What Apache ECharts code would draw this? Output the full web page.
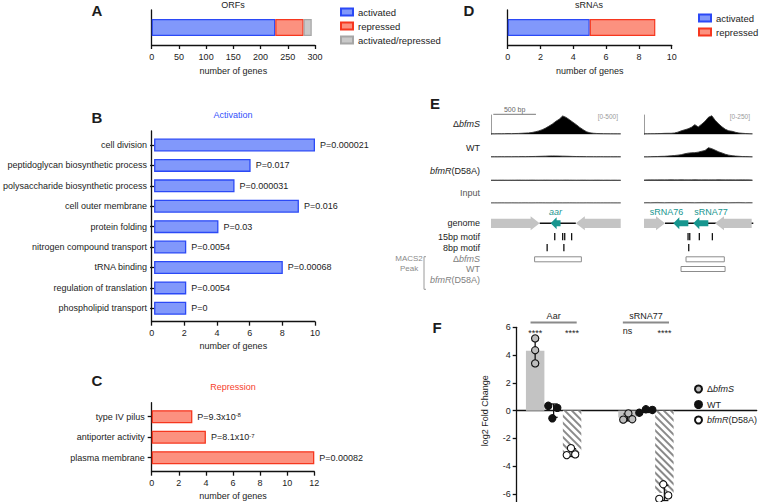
<!DOCTYPE html>
<html>
<head>
<meta charset="utf-8">
<script src="https://cdn.jsdelivr.net/npm/echarts@6/dist/echarts.min.js"></script>
<style>
html,body{margin:0;padding:0;background:#ffffff;}
#chart{width:763px;height:502px;}
</style>
</head>
<body>
<div id="chart"></div>
<script>
// ================= DATA =================
// Panel A – ORFs
const orfLabel = ['ORFs'];
const orfActivated = [227];
const orfRepressed = [52];
const orfBoth = [15];
// Panel D – sRNAs
const srnaLabel = ['sRNAs'];
const srnaActivated = [5];
const srnaRepressed = [4];
// Panel B – Activation GO terms
const activationTerms = ['cell division', 'peptidoglycan biosynthetic process', 'polysaccharide biosynthetic process',
  'cell outer membrane', 'protein folding', 'nitrogen compound transport', 'tRNA binding',
  'regulation of translation', 'phospholipid transport'];
const activationGenes = [10, 6, 5, 9, 4, 2, 8, 2, 2];
const activationP = ['P=0.000021', 'P=0.017', 'P=0.000031', 'P=0.016', 'P=0.03', 'P=0.0054', 'P=0.00068', 'P=0.0054', 'P=0'];
// Panel C – Repression GO terms
const repressionTerms = ['type IV pilus', 'antiporter activity', 'plasma membrane'];
const repressionGenes = [3, 4, 12];
const repressionP = ['P=9.3x10{sup|-8}', 'P=8.1x10{sup|-7}', 'P=0.00082'];

// Panel E – ChIP-seq coverage, 40-bp bins
const binSize = 40;
const aarDbfmS = [13,12,15,14,16,18,17,20,22,26,31,36,47,65,88,119,160,212,268,335,392,475,438,378,312,250,178,120,66,38,27,21,18,16,15,14,13,13,12];
const aarWT    = [14,15,14,16,15,16,15,17,16,18,17,19,20,22,24,27,30,33,35,34,32,30,28,25,22,20,19,18,17,16,16,15,16,15,14,15,14,15,14];
const aarD58A  = [16,17,16,18,17,16,18,17,19,18,17,18,19,18,17,18,19,18,17,18,17,18,19,18,17,16,17,18,17,16,17,18,17,16,17,16,17,16,16];
const aarInput = [12,13,12,14,13,12,14,13,12,13,14,13,12,14,15,14,13,12,13,14,13,12,13,14,13,12,13,12,14,13,12,13,12,13,12,13,12,12,12];
const srnaDbfmS = [6,7,8,8,9,10,12,13,13,17,28,45,58,71,91,125,95,130,168,220,240,181,136,97,65,45,39,26,17,13,10,8,6];
const srnaWT    = [6,6,8,9,10,12,13,16,19,23,28,34,45,54,58,60,67,78,88,124,112,92,71,56,39,28,21,16,13,10,9,8,6];
const srnaD58A  = [10,11,12,11,12,13,12,13,14,13,12,14,13,12,13,14,13,12,13,12,13,12,14,13,12,13,12,11,12,13,12,11,10];
const srnaInput = [8,9,8,10,11,9,8,9,10,9,8,10,11,10,9,8,9,10,11,10,9,8,9,10,9,8,9,10,11,9,8,9,8];
const aarScaleMax = 500;
const srnaScaleMax = 250;
const trackNames = ['ΔbfmS', 'WT', 'bfmR(D58A)', 'Input'];
const scaleBarBp = [[27, 527]];
// loci: [start bp, end bp, strand, kind (0 backbone, 1 gene, 2 sRNA)]
const aarLocus = [[570, 994, 0, 0], [0, 570, 1, 1], [994, 1520, -1, 1], [699, 815, -1, 2]];
const aarLocusNames = ['', '', '', 'aar'];
const srnaLocus = [[248, 1290, 0, 0], [0, 248, 1, 1], [838, 1271, -1, 1], [346, 523, -1, 2], [582, 759, -1, 2]];
const srnaLocusNames = ['', '', '', 'sRNA76', 'sRNA77'];
const aarMotif15 = [747, 840, 864, 945];
const aarMotif8 = [658, 854];
const srnaMotif15 = [520, 540, 653, 807];
const srnaMotif8 = [528];
// MACS2 peaks: [start, end, sample (0 ΔbfmS, 1 WT)]
const aarPeaks = [[511, 1059, 0]];
const srnaPeaks = [[496, 948, 0], [437, 957, 1]];

// Panel F – qRT-PCR log2 fold change
const qpcrTargets = ['Aar', 'sRNA77'];
const strains = ['ΔbfmS', 'WT', 'bfmR(D58A)'];
const fcMeanAar = [4.32, 0.0, -3.02];
const fcSdAar = [0.9, 0.48, 0.28];
const fcMeanSrna77 = [-0.49, 0.0, -5.92];
const fcSdSrna77 = [0.25, 0.13, 0.55];
const fcPointsAar = [[5.2, 4.35, 3.4], [0.35, -0.55, 0.2], [-2.7, -3.2, -3.15]];
const fcPointsSrna77 = [[-0.2, -0.65, -0.62], [-0.15, 0.1, 0.05], [-5.3, -6.1, -6.35]];
const jitterAar = [[0, 0, 0], [-0.29, -0.07, 0.2], [-0.06, -0.29, 0.17]];
const jitterSrna77 = [[0.05, -0.23, 0.26], [-0.36, 0, 0.35], [-0.06, 0.21, -0.28]];
const sigAar = ['****', '', '****'];
const sigSrna77 = ['ns', '', '****'];

// ================= STYLE / LAYOUT =================
const FONT = '"Liberation Sans", Arial, Helvetica, sans-serif';
const INK = '#1c1c1c';
const AX = {color: '#111', width: 1.3};
const BLUE_FILL = '#8198fb', BLUE_EDGE = '#2b49f6';
const RED_FILL = '#fc917f', RED_EDGE = '#f6371f';
const GRAY_FILL = '#c9c9c9', GRAY_EDGE = '#a6a6a6';
const TEAL = '#17968f';

const grids = [], xAxes = [], yAxes = [], series = [];
function addGrid(rect, xa, ya) {
  const i = grids.length;
  grids.push(Object.assign({containLabel: false}, rect));
  xAxes.push(Object.assign({gridIndex: i}, xa));
  yAxes.push(Object.assign({gridIndex: i}, ya));
  return i;
}
function hiddenValue(min, max, extra) {
  return Object.assign({type: 'value', min: min, max: max, show: false}, extra || {});
}
function shownX(min, max, interval, name, nameGap) {
  return {type: 'value', min: min, max: max, interval: interval,
    axisLine: {show: true, lineStyle: AX}, axisTick: {show: true, length: 4, lineStyle: AX},
    axisLabel: {show: true, fontSize: 9, color: INK, fontFamily: FONT, margin: 7},
    splitLine: {show: false}, name: name, nameLocation: 'middle', nameGap: nameGap,
    nameTextStyle: {fontSize: 9, color: INK, fontFamily: FONT}};
}
const lineOnlyY = {type: 'value', min: 0, max: 1, axisLine: {show: true, lineStyle: AX},
  axisTick: {show: false}, axisLabel: {show: false}, splitLine: {show: false}};

// ---- Panel A ----
const gA = addGrid({left: 151.7, top: 10, width: 163.3, height: 35}, shownX(0, 300, 50, 'number of genes', 21),
  {type: 'category', data: orfLabel, axisLine: {show: true, lineStyle: AX}, axisTick: {show: false}, axisLabel: {show: false}});
const stackStyles = [
  ['activated', BLUE_FILL, BLUE_EDGE], ['repressed', RED_FILL, RED_EDGE], ['activated/repressed', GRAY_FILL, GRAY_EDGE]];
[orfActivated, orfRepressed, orfBoth].forEach(function (d, k) {
  series.push({type: 'bar', name: stackStyles[k][0], stack: 'orf', xAxisIndex: gA, yAxisIndex: gA, data: d, barWidth: 17,
    itemStyle: {color: stackStyles[k][1], borderColor: stackStyles[k][2], borderWidth: 1.2}});
});
// ---- Panel D ----
const gD = addGrid({left: 507.7, top: 10, width: 164, height: 35}, shownX(0, 10, 2, 'number of genes', 21),
  {type: 'category', data: srnaLabel, axisLine: {show: true, lineStyle: AX}, axisTick: {show: false}, axisLabel: {show: false}});
[srnaActivated, srnaRepressed].forEach(function (d, k) {
  series.push({type: 'bar', name: stackStyles[k][0], stack: 'srna', xAxisIndex: gD, yAxisIndex: gD, data: d, barWidth: 17,
    itemStyle: {color: stackStyles[k][1], borderColor: stackStyles[k][2], borderWidth: 1.2}});
});
// ---- Panel B ----
function catAxis(data) {
  return {type: 'category', data: data, inverse: true, axisLine: {show: false},
    axisTick: {show: true, alignWithLabel: true, length: 4, lineStyle: AX},
    axisLabel: {fontSize: 9, color: INK, fontFamily: FONT, margin: 7}};
}
const gB = addGrid({left: 151.7, top: 134.8, width: 163.3, height: 183.7}, hiddenValue(0, 10), catAxis(activationTerms));
addGrid({left: 151.7, top: 131, width: 163.3, height: 190.7}, shownX(0, 10, 2, 'number of genes', 20), lineOnlyY);
series.push({type: 'bar', xAxisIndex: gB, yAxisIndex: gB, data: activationGenes, barWidth: 13,
  itemStyle: {color: BLUE_FILL, borderColor: BLUE_EDGE, borderWidth: 1.3},
  label: {show: true, position: 'right', distance: 5, fontSize: 9, color: INK, fontFamily: FONT,
    formatter: function (p) { return activationP[p.dataIndex]; }}});
// ---- Panel C ----
const gC = addGrid({left: 151.7, top: 406.45, width: 162.6, height: 61.5}, hiddenValue(0, 12), catAxis(repressionTerms));
addGrid({left: 151.7, top: 402.7, width: 162.6, height: 69}, shownX(0, 12, 2, 'number of genes', 19.5), lineOnlyY);
series.push({type: 'bar', xAxisIndex: gC, yAxisIndex: gC, data: repressionGenes, barWidth: 13,
  itemStyle: {color: RED_FILL, borderColor: RED_EDGE, borderWidth: 1.3},
  label: {show: true, position: 'right', distance: 5, fontSize: 9, color: INK, fontFamily: FONT,
    formatter: function (p) { return repressionP[p.dataIndex]; },
    rich: {sup: {fontSize: 6, color: INK, fontFamily: FONT, verticalAlign: 'top', lineHeight: 8}}}});

// ---- Panel E tracks ----
const trackTops = [115, 138, 161.4, 184];
const trackH = 19.3;
const regionL = {left: 491, width: 129.7, max: 1520};
const regionR = {left: 644, width: 109.3, max: 1290};
const leftTracks = [aarDbfmS, aarWT, aarD58A, aarInput];
const rightTracks = [srnaDbfmS, srnaWT, srnaD58A, srnaInput];
const trackGrid = {L: [], R: []};
function addTrack(region, vals, row, scaleMax, key) {
  const ya = row === 0 ?
    {type: 'value', min: 0, max: scaleMax, position: 'right', axisLine: {show: true, lineStyle: {color: '#9c9c9c', width: 1}},
      axisTick: {show: false}, axisLabel: {show: false}, splitLine: {show: false}} :
    hiddenValue(0, scaleMax);
  const g = addGrid({left: region.left, top: trackTops[row], width: region.width, height: trackH}, hiddenValue(0, region.max), ya);
  trackGrid[key].push(g);
  series.push({type: 'line', xAxisIndex: g, yAxisIndex: g, symbol: 'none', silent: true,
    data: vals.map(function (v, i) { return [i * binSize, v]; }),
    lineStyle: {color: row >= 2 ? '#666' : '#333', width: 0.9}, areaStyle: {color: '#000', opacity: 1}});
}
leftTracks.forEach(function (v, r) { addTrack(regionL, v, r, aarScaleMax, 'L'); });
rightTracks.forEach(function (v, r) { addTrack(regionR, v, r, srnaScaleMax, 'R'); });
// scale bar (500 bp) drawn in the left ΔbfmS track coordinate system
series.push({type: 'custom', xAxisIndex: trackGrid.L[0], yAxisIndex: trackGrid.L[0], data: scaleBarBp, silent: true,
  renderItem: function (params, api) {
    const a = api.coord([api.value(0), aarScaleMax]), b = api.coord([api.value(1), aarScaleMax]);
    const y = a[1] - 0.7;
    return {type: 'group', children: [
      {type: 'line', shape: {x1: a[0], y1: y, x2: b[0], y2: y}, style: {stroke: '#7a7a7a', lineWidth: 1}},
      {type: 'text', x: (a[0] + b[0]) / 2, y: y - 4.5, style: {text: (api.value(1) - api.value(0)) + ' bp', fill: '#666',
        fontSize: 7, fontFamily: FONT, align: 'center', verticalAlign: 'middle', textAlign: 'center', textVerticalAlign: 'middle'}}]};
  }});

// ---- Panel E annotations ----
const ROW_Y = {genome: 23.3, motif: [36.7, 47.7], peak: [59.3, 69, 80]};
const LABEL_ALIGN = {sRNA76: 'right', sRNA77: 'left', aar: 'center'};
function arrowPts(x1, x2, yc, dir, bodyH, headH, headL) {
  if (dir > 0) {
    const hx = Math.max(x1, x2 - headL);
    return [[x1, yc - bodyH], [hx, yc - bodyH], [hx, yc - headH], [x2, yc], [hx, yc + headH], [hx, yc + bodyH], [x1, yc + bodyH]];
  }
  const hx = Math.min(x2, x1 + headL);
  return [[x2, yc - bodyH], [hx, yc - bodyH], [hx, yc - headH], [x1, yc], [hx, yc + headH], [hx, yc + bodyH], [x2, yc + bodyH]];
}
function addAnnotation(region, locus, names, m15, m8, peaks) {
  const g = addGrid({left: region.left, top: 200, width: region.width, height: 100},
    hiddenValue(0, region.max), hiddenValue(0, 100, {inverse: true}));
  series.push({type: 'custom', xAxisIndex: g, yAxisIndex: g, data: locus, silent: true,
    renderItem: function (params, api) {
      const a = api.coord([api.value(0), ROW_Y.genome]), b = api.coord([api.value(1), ROW_Y.genome]);
      const x1 = a[0], x2 = b[0], yc = a[1], kind = api.value(3), dir = api.value(2);
      if (kind === 0) return {type: 'line', shape: {x1: x1, y1: yc, x2: x2, y2: yc}, style: {stroke: '#111', lineWidth: 1.5}};
      const gene = kind === 1;
      const pts = arrowPts(x1, x2, yc, dir, gene ? 4.6 : 3, gene ? 7 : 6, gene ? 9 : 6);
      const ch = [{type: 'polygon', shape: {points: pts}, style: {fill: gene ? '#c4c4c4' : TEAL}}];
      const nm = names[params.dataIndex];
      if (nm) {
        const al = LABEL_ALIGN[nm] || 'center';
        const lx = al === 'right' ? x2 - 5 : (al === 'left' ? x1 + 1 : (x1 + x2) / 2);
        ch.push({type: 'text', x: lx, y: yc - 11, style: {text: nm, fill: TEAL, fontSize: 9, fontFamily: FONT,
          fontStyle: nm === 'aar' ? 'italic' : 'normal', align: al, verticalAlign: 'middle', textAlign: al, textVerticalAlign: 'middle'}});
      }
      return {type: 'group', children: ch};
    }});
  const motifData = m15.map(function (b) { return [b, 0]; }).concat(m8.map(function (b) { return [b, 1]; }));
  series.push({type: 'custom', xAxisIndex: g, yAxisIndex: g, data: motifData, silent: true,
    renderItem: function (params, api) {
      const c = api.coord([api.value(0), ROW_Y.motif[api.value(1)]]);
      return {type: 'line', shape: {x1: c[0], y1: c[1] - 3.6, x2: c[0], y2: c[1] + 3.6}, style: {stroke: '#111', lineWidth: 1.3}};
    }});
  series.push({type: 'custom', xAxisIndex: g, yAxisIndex: g, data: peaks, silent: true,
    renderItem: function (params, api) {
      const a = api.coord([api.value(0), ROW_Y.peak[api.value(2)]]), b = api.coord([api.value(1), ROW_Y.peak[api.value(2)]]);
      return {type: 'rect', shape: {x: a[0], y: a[1] - 2.5, width: b[0] - a[0], height: 5}, style: {fill: 'none', stroke: '#8c8c8c', lineWidth: 1}};
    }});
}
addAnnotation(regionL, aarLocus, aarLocusNames, aarMotif15, aarMotif8, aarPeaks);
addAnnotation(regionR, srnaLocus, srnaLocusNames, srnaMotif15, srnaMotif8, srnaPeaks);

// ---- Panel F ----
const gF = addGrid({left: 516.7, top: 327.3, width: 240, height: 166.7},
  {type: 'value', min: 0, max: 13, axisLine: {show: true, onZero: true, lineStyle: AX}, axisTick: {show: false}, axisLabel: {show: false}, splitLine: {show: false}},
  {type: 'value', min: -6, max: 6, interval: 2, axisLine: {show: false}, axisTick: {show: true, length: 4, lineStyle: AX},
    axisLabel: {fontSize: 9, color: INK, fontFamily: FONT, margin: 6}, splitLine: {show: false},
    name: 'log2 Fold Change', nameLocation: 'middle', nameGap: 27, nameTextStyle: {fontSize: 9, color: INK, fontFamily: FONT}});
addGrid({left: 516.7, top: 327.3, width: 240, height: 175}, hiddenValue(0, 1), lineOnlyY);
const fSlots = [[1, 2, 3], [6, 7, 8]];
const fMeans = [fcMeanAar, fcMeanSrna77], fSds = [fcSdAar, fcSdSrna77];
const fPts = [fcPointsAar, fcPointsSrna77], fJit = [jitterAar, jitterSrna77];
const fSig = [sigAar, sigSrna77];
const STRAIN_BAR = [
  {color: '#c3c3c3'},
  {color: 'rgba(255,255,255,0)'},
  {color: '#ffffff', decal: {symbol: 'rect', symbolSize: 1, color: '#8a8a8a', dashArrayX: [1, 0], dashArrayY: [2, 2.4], rotation: Math.PI / 4}}];
const STRAIN_PT = ['#bdbdbd', '#111111', '#ffffff'];
const barData = [], errData = [], sigData = [];
fSlots.forEach(function (slots, gi) {
  slots.forEach(function (x, s) {
    barData.push({value: [x, fMeans[gi][s]], itemStyle: STRAIN_BAR[s]});
    errData.push([x, fMeans[gi][s] - fSds[gi][s], fMeans[gi][s] + fSds[gi][s]]);
    if (fSig[gi][s]) sigData.push({value: [x, 5.68], text: fSig[gi][s]});
  });
});
series.push({type: 'bar', xAxisIndex: gF, yAxisIndex: gF, data: barData, barWidth: 18.46, z: 1, silent: true});
series.push({type: 'custom', xAxisIndex: gF, yAxisIndex: gF, data: errData, z: 2, silent: true,
  renderItem: function (params, api) {
    const lo = api.coord([api.value(0), api.value(1)]), hi = api.coord([api.value(0), api.value(2)]);
    const st = {stroke: '#111', lineWidth: 1.3};
    return {type: 'group', children: [
      {type: 'line', shape: {x1: lo[0], y1: lo[1], x2: hi[0], y2: hi[1]}, style: st},
      {type: 'line', shape: {x1: lo[0] - 4, y1: lo[1], x2: lo[0] + 4, y2: lo[1]}, style: st},
      {type: 'line', shape: {x1: hi[0] - 4, y1: hi[1], x2: hi[0] + 4, y2: hi[1]}, style: st}]};
  }});
strains.forEach(function (name, s) {
  const d = [];
  fSlots.forEach(function (slots, gi) {
    fPts[gi][s].forEach(function (y, k) { d.push([slots[s] + fJit[gi][s][k], y]); });
  });
  series.push({type: 'scatter', name: name, xAxisIndex: gF, yAxisIndex: gF, data: d, symbol: 'circle', symbolSize: 7.2, z: 3, clip: false,
    itemStyle: {color: STRAIN_PT[s], borderColor: '#111', borderWidth: 1.1, opacity: 1}});
});
series.push({type: 'custom', xAxisIndex: gF, yAxisIndex: gF, data: sigData, silent: true,
  renderItem: function (params, api) {
    const c = api.coord([api.value(0), api.value(1)]);
    const t = sigData[params.dataIndex].text;
    return {type: 'text', x: c[0], y: c[1] + (t === 'ns' ? -1 : 1.5), style: {text: t, fill: INK, fontSize: 9, fontFamily: FONT,
      align: 'center', verticalAlign: 'middle', textAlign: 'center', textVerticalAlign: 'middle'}};
  }});
const groupLabelData = qpcrTargets.map(function (t, gi) { return [fSlots[gi][1], 6.82, 6.34]; });
series.push({type: 'custom', xAxisIndex: gF, yAxisIndex: gF, data: groupLabelData, silent: true,
  renderItem: function (params, api) {
    const x = api.value(0);
    const tc = api.coord([x, api.value(1)]);
    const a = api.coord([x - 1.25, api.value(2)]), b = api.coord([x + 1.25, api.value(2)]);
    return {type: 'group', children: [
      {type: 'text', x: tc[0], y: tc[1], style: {text: qpcrTargets[params.dataIndex], fill: INK, fontSize: 9, fontFamily: FONT,
        align: 'center', verticalAlign: 'middle', textAlign: 'center', textVerticalAlign: 'middle'}},
      {type: 'line', shape: {x1: a[0], y1: a[1], x2: b[0], y2: b[1]}, style: {stroke: '#8a8a8a', lineWidth: 2}}]};
  }});

// ---- free text ----
function txt(x, y, text, o) {
  o = o || {};
  const al = o.align || 'left';
  return {type: 'text', x: x, y: y, silent: true, style: Object.assign({text: text, fill: o.fill || INK, fontSize: o.size || 9,
    fontFamily: FONT, fontWeight: o.weight || 'normal', fontStyle: o.style || 'normal',
    align: al, verticalAlign: 'middle', textAlign: al, textVerticalAlign: 'middle'}, o.rich ? {rich: o.rich} : {})};
}
const RICH = function (fill) {
  return {n: {fill: fill, fontSize: 9, fontFamily: FONT}, i: {fill: fill, fontSize: 9, fontFamily: FONT, fontStyle: 'italic'}};
};
function strainRich(name) {
  if (name === 'ΔbfmS') return '{n|Δ}{i|bfmS}';
  if (name === 'bfmR(D58A)') return '{i|bfmR}{n|(D58A)}';
  return '{n|' + name + '}';
}
const graphics = [
  txt(97, 10, 'A', {size: 15, weight: 'bold', align: 'center'}),
  txt(469, 10, 'D', {size: 15, weight: 'bold', align: 'center'}),
  txt(97, 117, 'B', {size: 15, weight: 'bold', align: 'center'}),
  txt(97, 380, 'C', {size: 15, weight: 'bold', align: 'center'}),
  txt(435, 103, 'E', {size: 15, weight: 'bold', align: 'center'}),
  txt(437, 327, 'F', {size: 15, weight: 'bold', align: 'center'}),
  txt(233, 5, 'ORFs', {align: 'center'}),
  txt(589, 5, 'sRNAs', {align: 'center'}),
  txt(233, 115, 'Activation', {align: 'center', fill: '#3350fb'}),
  txt(233, 387, 'Repression', {align: 'center', fill: '#f6412c'}),
  txt(618, 116, '[0-' + aarScaleMax + ']', {align: 'right', size: 6.5, fill: '#9a9a9a'}),
  txt(750, 116, '[0-' + srnaScaleMax + ']', {align: 'right', size: 6.5, fill: '#9a9a9a'}),
  txt(480, 223.3, 'genome', {align: 'right'}),
  txt(480, 236.7, '15bp motif', {align: 'right'}),
  txt(480, 247.7, '8bp motif', {align: 'right'}),
  txt(409, 258, 'MACS2', {align: 'center', fill: '#8a8a8a', size: 8}),
  txt(409, 268, 'Peak', {align: 'center', fill: '#8a8a8a', size: 8}),
  {type: 'polyline', silent: true, shape: {points: [[426, 256.7], [424, 256.7], [424, 289.3], [426, 289.3]]}, style: {stroke: '#9a9a9a', lineWidth: 1, fill: 'none'}}
];
const trackLabelY = [124.3, 147.7, 171, 193.3];
trackNames.forEach(function (n, r) {
  graphics.push(txt(480, trackLabelY[r], strainRich(n), {align: 'right', rich: RICH(r === 3 ? '#555' : INK)}));
});
const peakLabelNames = ['ΔbfmS', 'WT', 'bfmR(D58A)'];
peakLabelNames.forEach(function (n, r) {
  graphics.push(txt(480, 200 + ROW_Y.peak[r], strainRich(n), {align: 'right', rich: RICH('#808080')}));
});

const option = {
  backgroundColor: '#ffffff',
  animation: false,
  textStyle: {fontFamily: FONT},
  grid: grids, xAxis: xAxes, yAxis: yAxes, series: series,
  legend: [
    {data: ['activated', 'repressed', 'activated/repressed'], orient: 'vertical', left: 340, top: 7, padding: 0,
      itemWidth: 12, itemHeight: 7, itemGap: 4, icon: 'rect', selectedMode: false,
      textStyle: {fontSize: 9.5, color: INK, fontFamily: FONT}},
    {data: ['activated', 'repressed'], orient: 'vertical', left: 698, top: 13, padding: 0,
      itemWidth: 12, itemHeight: 7, itemGap: 4, icon: 'rect', selectedMode: false,
      textStyle: {fontSize: 9.5, color: INK, fontFamily: FONT}},
    {data: strains, orient: 'vertical', left: 694, top: 384.5, padding: 0, itemWidth: 7, itemHeight: 7, itemGap: 6.5,
      icon: 'circle', selectedMode: false, formatter: function (n) { return strainRich(n); },
      textStyle: {fontSize: 9, color: INK, fontFamily: FONT, rich: RICH(INK)}}
  ],
  graphic: {elements: graphics}
};
const chart = echarts.init(document.getElementById('chart'), null, {renderer: 'svg', width: 763, height: 502});
chart.setOption(option);
</script>
</body>
</html>
